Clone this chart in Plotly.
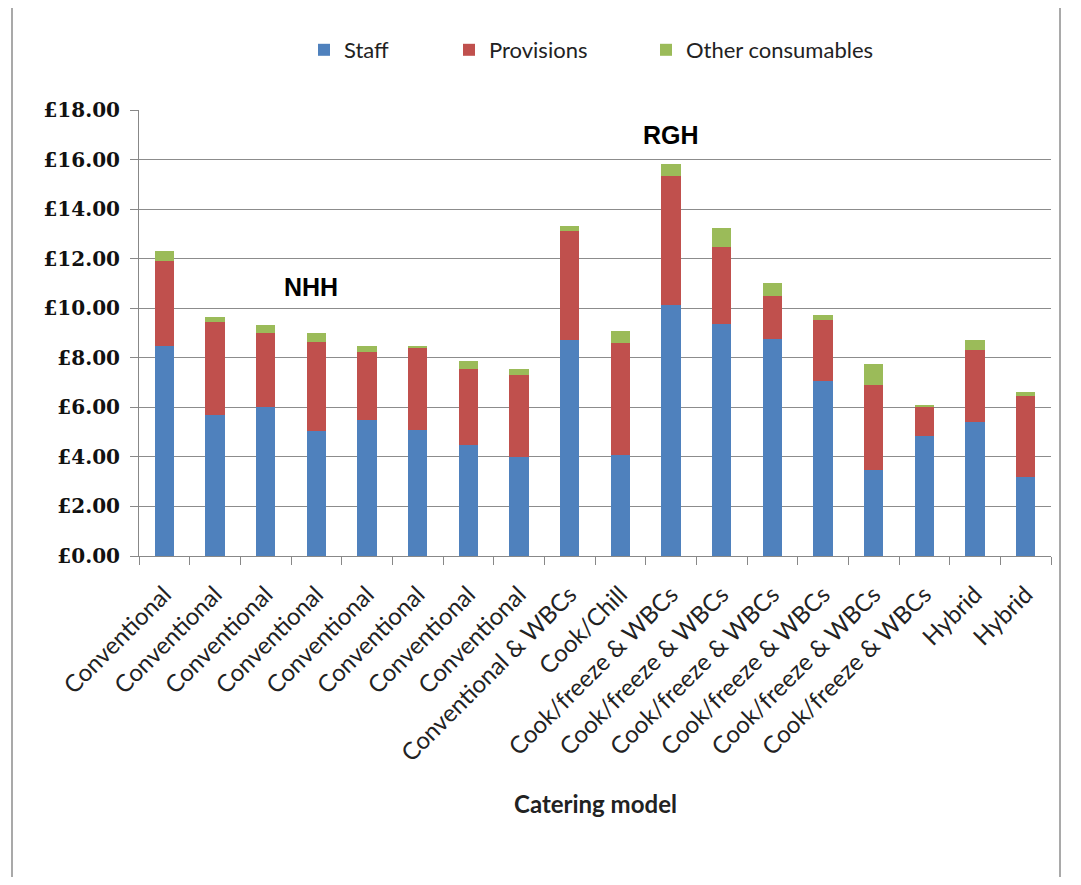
import plotly.graph_objects as go

categories = ["Conventional"] * 8 + ["Conventional & WBCs", "Cook/Chill"] + \
    ["Cook/freeze & WBCs"] * 6 + ["Hybrid", "Hybrid"]
staff = [8.47, 5.70, 6.03, 5.03, 5.50, 5.08, 4.50, 4.00, 8.72, 4.07,
         10.12, 9.38, 8.75, 7.05, 3.47, 4.85, 5.40, 3.20]
provisions = [3.43, 3.76, 2.99, 3.60, 2.75, 3.30, 3.05, 3.31, 4.40, 4.51,
              5.22, 3.08, 1.75, 2.47, 3.43, 1.17, 2.91, 3.26]
other = [0.40, 0.20, 0.31, 0.39, 0.24, 0.11, 0.32, 0.24, 0.20, 0.50,
         0.49, 0.77, 0.50, 0.20, 0.85, 0.05, 0.41, 0.14]
series_names = ["Staff", "Provisions", "Other consumables"]
colors = ["#4F81BD", "#C0504D", "#9BBB59"]
y_ticks = list(range(0, 19, 2))
y_ticktext = ["\u00a3%.2f" % v for v in y_ticks]

xpos = list(range(len(categories)))

fig = go.Figure()
legends = ["legend", "legend2", "legend3"]
for name, vals, col, lg in zip(series_names, [staff, provisions, other], colors, legends):
    fig.add_trace(go.Bar(x=xpos, y=vals, name=name, marker_color=col,
                         marker_line_width=0, width=0.38, legend=lg,
                         showlegend=True))

OFF = 8  # page body margin
W, H = 1081 - 2 * OFF, 885 - 2 * OFF
# target page coordinates of the plot area
PL, PR, PT, PB = 139, 1051, 110, 556
ml, mt = PL - OFF, PT - OFF
mr = W - (PR - OFF)
mb = H - (PB - OFF)
pw, ph = PR - PL, PB - PT


def px(xp):
    return (xp - PL) / pw


def py(yp):
    return (PB - yp) / ph


legfont = dict(family="Lato, Open Sans, sans-serif", size=22, color="#222")
leg_common = dict(orientation="h", xanchor="left", yanchor="middle",
                  font=legfont, bgcolor="rgba(0,0,0,0)", itemwidth=30)

frame = dict(color="#8c8c8c", width=1.5)
FR = 1060

fig.update_layout(
    width=W, height=H,
    margin=dict(l=ml, r=mr, t=mt, b=mb, autoexpand=False),
    paper_bgcolor="white", plot_bgcolor="white",
    barmode="stack",
    showlegend=True,
    legend=dict(x=px(304), y=py(50), **leg_common),
    legend2=dict(x=px(449), y=py(50), **leg_common),
    legend3=dict(x=px(646), y=py(50), **leg_common),
    xaxis=dict(
        range=[-0.5, len(categories) - 0.5],
        tickvals=xpos, ticktext=categories, tickangle=-45,
        tickfont=dict(family="Lato, Open Sans, sans-serif", size=24, color="#222"),
        ticks="", showgrid=False, zeroline=False, ticklabelstandoff=14,
        showline=True, linecolor="#888888", linewidth=1,
        minor=dict(tick0=-0.5, dtick=1, ticks="outside", ticklen=8,
                   tickcolor="#888888", showgrid=False),
    ),
    yaxis=dict(
        range=[0, 18], tickvals=y_ticks, ticktext=y_ticktext,
        tickfont=dict(family="DejaVu Serif, serif", size=20, color="#111",
                      weight="bold"),
        showgrid=True, gridcolor="#8c8c8c", gridwidth=1,
        showline=True, linecolor="#888888", linewidth=1,
        ticks="outside", ticklen=8, tickcolor="#888888", ticklabelstandoff=6,
        zeroline=False,
    ),
    annotations=[
        dict(text="<b>NHH</b>", x=2.9, y=10.85, xref="x", yref="y", showarrow=False,
             font=dict(family="Liberation Sans Narrow, Arial Narrow, sans-serif", size=25, color="black")),
        dict(text="<b>RGH</b>", x=10.0, y=17.0, xref="x", yref="y", showarrow=False,
             font=dict(family="Liberation Sans Narrow, Arial Narrow, sans-serif", size=25, color="black")),
        dict(text="<b>Catering model</b>", x=px(595), y=py(803), xref="paper", yref="paper",
             xanchor="center", yanchor="middle",
             showarrow=False, font=dict(family="Lato, Open Sans, sans-serif", size=24, color="#222")),
    ],
    shapes=[
        dict(type="line", xref="paper", yref="paper",
             x0=px(12), x1=px(FR), y0=py(7), y1=py(7), line=frame),
        dict(type="line", xref="paper", yref="paper",
             x0=px(12), x1=px(12), y0=py(7), y1=py(884), line=frame),
        dict(type="line", xref="paper", yref="paper",
             x0=px(FR), x1=px(FR), y0=py(7), y1=py(884), line=frame),
    ],
)

fig.write_html("out.html")
